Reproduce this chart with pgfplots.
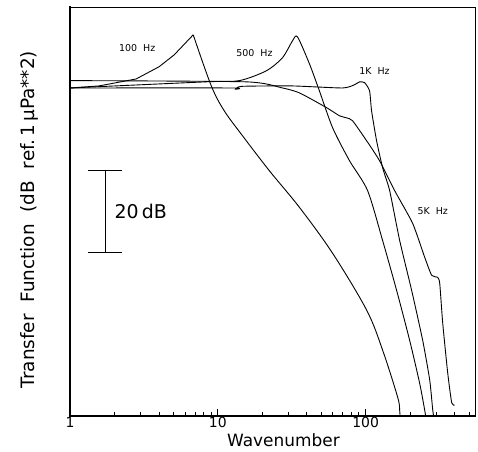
\documentclass[border=0pt]{standalone}
\usepackage{fontspec}
\setmainfont{DejaVu Sans}
\usepackage{pgfplots}
\pgfplotsset{compat=1.18}
\begin{document}
\begin{tikzpicture}
\begin{axis}[name=ax, xmode=log, scale only axis, width=405bp, height=409bp,
  xmin=1, xmax=550, ymin=0, ymax=100,
  ytick=\empty,
  xtick={1,10,100}, xticklabels={1,10,100},
  minor xtick={2,3,4,5,6,7,8,9,20,30,40,50,60,70,80,90,200,300,400,500},
  xtick pos=bottom, tick align=inside,
  major tick length=7bp, minor tick length=4bp,
  every tick/.style={black, line width=0.7pt},
  axis line style={line width=0.6pt},
  xticklabel style={font=\fontsize{14}{16}\selectfont, inner sep=1pt},
  xlabel={Wavenumber},
  xlabel style={font=\fontsize{17}{20}\selectfont, at={(axis description cs:0.527,-0.06)}, anchor=center},
  ylabel={Transfer\ \ Function\ \ (dB\ \ ref.\,1\,μPa**2)},
  ylabel style={font=\fontsize{18.5}{20}\selectfont, at={(axis description cs:-0.101,0.48)}, anchor=center},
  every axis plot post/.style={black, line width=0.9pt, mark=none},
  clip=false]
% 100 Hz (rise, then smooth fall)
\addplot coordinates {(1,80.2) (1.57,80.7) (2.80,82.4) (4.01,85.4) (5.07,88.3) (6.82,93.2)};
\addplot+[smooth, tension=0.55] coordinates {(6.82,93.2) (9.04,80.7) (11.07,74.6) (14.5,68.8) (22.3,60.0) (35.7,51.0) (59.8,39.8) (101.6,25.9) (130.4,16.1) (164.8,4.6) (170,1.5) (171,0)};
% 500 Hz
\addplot+[smooth, tension=0.45] coordinates {(1,80.2) (8.3,81.7) (14.0,82.0) (21.3,84.4) (27.4,87.6) (32.0,91.7) (34.6,92.7) (41.7,86.1) (48.7,79.5) (59.8,70.5) (77.9,62.4) (103.2,55.1) (130.4,42.9) (162.2,30.7) (198.7,18.5) (232.2,8.0) (251,1.5) (255,0)};
% 1K Hz
\addplot+[smooth, tension=0.35] coordinates {(1,80.2) (12.5,80.2) (13.2,79.9) (14.5,80.6) (32,80.7) (69.8,80.2) (84.2,81.0) (91.0,81.7) (98.5,81.5) (106.4,79.5) (109.8,74.6) (118.7,67.3) (130.4,60.7) (145.5,55.1) (170.1,42.9) (205.0,30.7) (243.4,18.5) (271.6,8.8) (284.6,1.5) (289,0)};
% 5K Hz
\addplot+[smooth, tension=0.35] coordinates {(1,82.0) (15.6,81.7) (27.4,80.2) (35.7,79.0) (54.4,75.4) (66.6,73.4) (74.3,72.9) (81.6,72.2) (101.6,67.3) (124.4,62.4) (157.3,55.1) (208.2,47.1) (251.2,38.8) (280.1,34.4) (307.5,33.9) (317.5,32.4) (332.6,22.7) (359.6,10.5) (382.8,3.2) (401,2.7)};
% 20 dB scale bar
\addplot[line width=1.1pt] coordinates {(1.32,60) (2.25,60)};
\addplot[line width=1.1pt] coordinates {(1.73,60) (1.73,40)};
\addplot[line width=1.1pt] coordinates {(1.32,40) (2.25,40)};
\node[anchor=west, font=\fontsize{19}{22}\selectfont, inner sep=0pt] at (axis cs:2.0,50) {20\,dB};
% curve labels
\node[font=\fontsize{9.5}{11}\selectfont] at (axis cs:2.85,90) {100\ \ Hz};
\node[font=\fontsize{9.5}{11}\selectfont] at (axis cs:17.7,88.8) {500\ \ Hz};
\node[font=\fontsize{9.5}{11}\selectfont] at (axis cs:115,84.4) {1K\ \ Hz};
\node[font=\fontsize{9.5}{11}\selectfont] at (axis cs:284.6,50.2) {5K\ \ Hz};
% heavier left and bottom frame
\draw[line width=1.5pt, line cap=rect] (rel axis cs:0,1) -- (rel axis cs:0,0) -- (rel axis cs:1,0);
\end{axis}
\pgfresetboundingbox
\path[use as bounding box] (ax.south west) ++(-70bp,-36bp) rectangle ([xshift=3bp,yshift=7bp]ax.north east);
\end{tikzpicture}
\end{document}
